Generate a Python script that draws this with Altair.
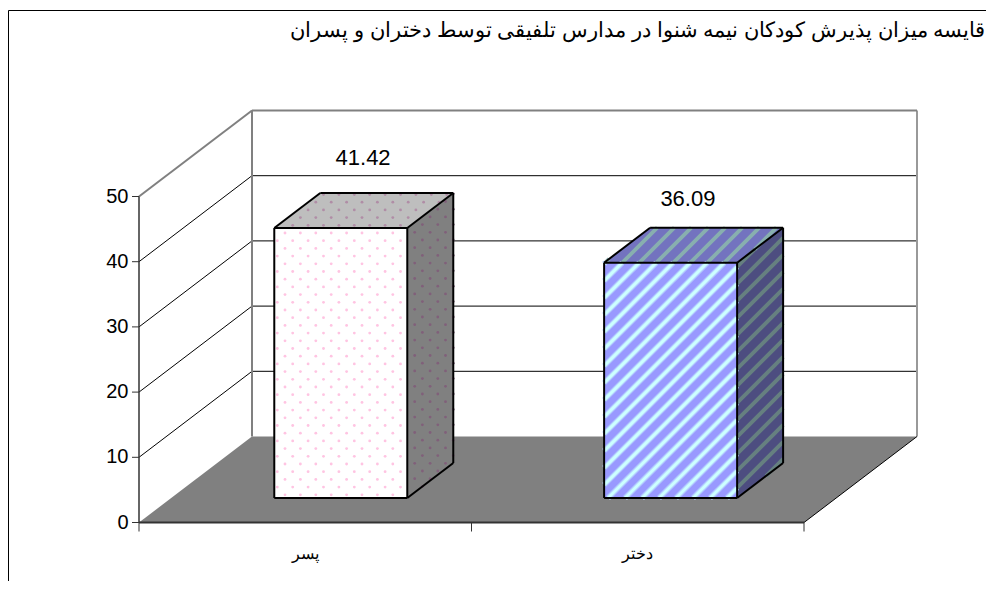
import altair as alt
import pandas as pd

# ---- chart values ----
categories = ["پسر", "دختر"]
values = [41.42, 36.09]
value_labels = ["41.42", "36.09"]
y_ticks = [0, 10, 20, 30, 40, 50]
title_text = "قايسه ميزان پذيرش كودكان نيمه شنوا در مدارس تلفيقی توسط دختران و پسران"

# ---- oblique projection ----
W, H = 978, 573
PX_X = 332.5          # px per category
PX_Y = 6.52           # px per value unit
X0, Y0 = 139.0, 522.5 # page position of the origin
DEPTH_PX_X, DEPTH_PX_Y = 113.0, 86.0
B_W, B_D0, B_D1 = 0.4, 0.285, 0.692
B_START = [0.31, 1.302]
LABEL_RISE = [35, 29]
LABEL_SHIFT = [-2, -7]
FONT = "Liberation Sans"

x_scale = alt.Scale(domain=[(8 - X0) / PX_X, (8 + W - X0) / PX_X], range=[0, W], nice=False, zero=False)
y_scale = alt.Scale(domain=[(Y0 - (8 + H)) / PX_Y, (Y0 - 8) / PX_Y], range=[H, 0], nice=False, zero=False)


def P(cat, val, d=0.0):
    return cat + d * DEPTH_PX_X / PX_X, val + d * DEPTH_PX_Y / PX_Y


def to_px(p):
    return X0 + p[0] * PX_X, Y0 - p[1] * PX_Y


def from_px(p):
    return (p[0] - X0) / PX_X, (Y0 - p[1]) / PX_Y


def enc_xy(**kw):
    return dict(
        x=alt.X("x:Q", scale=x_scale, axis=None),
        y=alt.Y("y:Q", scale=y_scale, axis=None),
        **kw,
    )


def poly(pts, fill):
    """Convex parallelogram drawn as an area through the shared scales."""
    xs = sorted({round(p[0], 6) for p in pts})
    rows = []
    n = len(pts)
    for x in xs:
        ys = []
        for i in range(n):
            a, b = pts[i], pts[(i + 1) % n]
            lo, hi = min(a[0], b[0]), max(a[0], b[0])
            if lo - 1e-6 <= x <= hi + 1e-6:
                if abs(b[0] - a[0]) < 1e-9:
                    ys += [a[1], b[1]]
                else:
                    ys.append(a[1] + (x - a[0]) / (b[0] - a[0]) * (b[1] - a[1]))
        rows.append({"x": x, "y": min(ys), "y2": max(ys)})
    return alt.Chart(pd.DataFrame(rows)).mark_area(color=fill, opacity=1, clip=False).encode(
        x=alt.X("x:Q", scale=x_scale, axis=None),
        y=alt.Y("y:Q", scale=y_scale, axis=None),
        y2=alt.Y2("y2:Q"),
    )


def segs(rows):
    """rows of (p, q, colour, width)"""
    df = pd.DataFrame(
        [{"x": a[0], "y": a[1], "x2": b[0], "y2": b[1], "c": c, "w": w} for a, b, c, w in rows]
    )
    return alt.Chart(df).mark_rule(strokeCap="butt").encode(
        x=alt.X("x:Q", scale=x_scale, axis=None),
        y=alt.Y("y:Q", scale=y_scale, axis=None),
        x2="x2:Q",
        y2="y2:Q",
        color=alt.Color("c:N", scale=None),
        strokeWidth=alt.StrokeWidth("w:Q", scale=None),
    )


def inside(p, pts):
    sign = 0
    n = len(pts)
    for i in range(n):
        a, b = pts[i], pts[(i + 1) % n]
        c = (b[0] - a[0]) * (p[1] - a[1]) - (b[1] - a[1]) * (p[0] - a[0])
        if abs(c) < 1e-9:
            continue
        s = 1 if c > 0 else -1
        if sign and s != sign:
            return False
        sign = s
    return True


def dots(pts, colour, anchor, size=6):
    px = [to_px(p) for p in pts]
    xs, ys = [p[0] for p in px], [p[1] for p in px]
    rows = []
    step = 7.7
    j0 = int((min(ys) - anchor[1]) / step) - 1
    j1 = int((max(ys) - anchor[1]) / step) + 1
    for j in range(j0, j1 + 1):
        y = anchor[1] + j * step
        off = step if j % 2 else 0
        k0 = int((min(xs) - anchor[0]) / (2 * step)) - 1
        k1 = int((max(xs) - anchor[0]) / (2 * step)) + 1
        for k in range(k0, k1 + 1):
            q = (anchor[0] + off + k * 2 * step, y)
            if inside(q, px):
                d = from_px(q)
                rows.append({"x": d[0], "y": d[1]})
    return alt.Chart(pd.DataFrame(rows)).mark_circle(color=colour, opacity=1, size=size).encode(**enc_xy())


def stripes(pts, colour, period=17.0, width=3.0, c0=1.0):
    px = [to_px(p) for p in pts]
    cs = [p[0] + p[1] for p in px]
    k0 = int((min(cs) - c0) // period)
    k1 = int((max(cs) - c0) // period) + 1
    rows = []
    n = len(px)
    for k in range(k0, k1 + 1):
        c = c0 + k * period
        hits = []
        for i in range(n):
            a, b = px[i], px[(i + 1) % n]
            fa, fb = a[0] + a[1] - c, b[0] + b[1] - c
            if fa * fb < 0:
                t = fa / (fa - fb)
                hits.append((a[0] + t * (b[0] - a[0]), a[1] + t * (b[1] - a[1])))
        if len(hits) == 2:
            rows.append((from_px(hits[0]), from_px(hits[1]), colour, width))
    return segs(rows)


def text_layer(rows, **mark):
    df = pd.DataFrame(rows)
    return alt.Chart(df).mark_text(font=FONT, color="black", **mark).encode(
        x=alt.X("x:Q", scale=x_scale, axis=None),
        y=alt.Y("y:Q", scale=y_scale, axis=None),
        text="t:N",
    )


layers = []
DARK, GREY, BLACK = "#333333", "#808080", "#000000"

# outer frame
tl = from_px((8.5, 10.5))
layers.append(segs([
    (tl, from_px((8.5, 8 + H)), BLACK, 1),
    (tl, from_px((8 + W, 10.5)), BLACK, 1),
]))

# floor
layers.append(poly([P(0, 0), P(2, 0), P(2, 0, 1), P(0, 0, 1)], GREY))

# back wall, side wall, gridlines
grid = []
for t in y_ticks[1:-1]:
    grid.append((P(0, t), P(0, t, 1), BLACK, 1))
    grid.append((P(0, t, 1), P(2, t, 1), BLACK, 1))
layers.append(segs(grid))
top = y_ticks[-1]
layers.append(segs([
    (P(0, 0, 1), P(0, top, 1), GREY, 2),
    (P(2, 0, 1), P(2, top, 1), "#999999", 2),
    (P(0, top, 1), P(2, top, 1), GREY, 2),
    (P(0, top), P(0, top, 1), GREY, 2),
    (P(2, 0), P(2, 0, 1), BLACK, 1),
]))

# axes
axis_rows = [
    (P(0, 0), P(0, top), DARK, 1.5),
    (P(0, 0), P(2, 0), DARK, 2),
]
tick_len_x = 7 / PX_X
tick_len_y = 9 / PX_Y
for t in y_ticks:
    axis_rows.append(((-tick_len_x, t), (0, t), DARK, 1))
for c in range(len(categories) + 1):
    axis_rows.append(((c, 0), (c, -tick_len_y), DARK, 1))
layers.append(segs(axis_rows))

layers.append(text_layer(
    [{"x": -10.5 / PX_X, "y": t, "t": str(t)} for t in y_ticks],
    fontSize=20, align="right", baseline="middle",
))
layers.append(text_layer(
    [{"x": i + 0.5, "y": -31 / PX_Y, "t": c} for i, c in enumerate(categories)],
    fontSize=16, align="center", baseline="middle",
))

# bars
faces = [
    {"front": "#FFFFFF", "top": "#BEBEBE", "side": "#808080"},
    {"front": "#9999FF", "top": "#7373BF", "side": "#4D4D80"},
]
for i, v in enumerate(values):
    x0 = B_START[i]
    x1 = x0 + B_W
    front = [P(x0, 0, B_D0), P(x1, 0, B_D0), P(x1, v, B_D0), P(x0, v, B_D0)]
    top_f = [P(x0, v, B_D0), P(x1, v, B_D0), P(x1, v, B_D1), P(x0, v, B_D1)]
    side = [P(x1, 0, B_D0), P(x1, 0, B_D1), P(x1, v, B_D1), P(x1, v, B_D0)]
    layers += [poly(front, faces[i]["front"]), poly(top_f, faces[i]["top"]), poly(side, faces[i]["side"])]
    if i == 0:
        layers += [
            dots(front, "#FFC4E2", (277.3, 240.7), 8),
            dots(top_f, "#B08DA6", (277.3, 240.7), 8),
            dots(side, "#80607A", (407.0, 240.0), 8),
        ]
    else:
        layers += [
            stripes(front, "#B3CCFF", width=5.5),
            stripes(front, "#CCFFFF", width=3.0),
            stripes(top_f, "#88AFAF", width=3.8),
            stripes(side, "#668080", width=3.8),
        ]
    layers.append(segs([
        (P(x0, 0, B_D0), P(x1, 0, B_D0), BLACK, 2),
        (P(x0, 0, B_D0), P(x0, v, B_D0), BLACK, 2),
        (P(x1, 0, B_D0), P(x1, v, B_D0), BLACK, 2),
        (P(x0, v, B_D0), P(x1, v, B_D0), BLACK, 2),
        (P(x0, v, B_D0), P(x0, v, B_D1), BLACK, 2),
        (P(x1, v, B_D0), P(x1, v, B_D1), BLACK, 2),
        (P(x0, v, B_D1), P(x1, v, B_D1), BLACK, 2),
        (P(x1, v, B_D1), P(x1, 0, B_D1), BLACK, 2),
        (P(x1, 0, B_D0), P(x1, 0, B_D1), BLACK, 2),
    ]))

# value labels
layers.append(text_layer(
    [{"x": P(B_START[i] + B_W / 2, 0, 0.5)[0] + LABEL_SHIFT[i] / PX_X,
      "y": v + (B_D1 * DEPTH_PX_Y + LABEL_RISE[i]) / PX_Y, "t": s}
     for i, (v, s) in enumerate(zip(values, value_labels))],
    fontSize=22, align="center", baseline="middle",
))

# title
tpos = from_px((8 + W - 0.5, 31))
layers.append(text_layer(
    [{"x": tpos[0], "y": tpos[1], "t": title_text}],
    fontSize=20.75, align="right", baseline="middle",
))

chart = alt.layer(*layers).properties(
    width=W, height=H, padding=0, autosize=alt.AutoSizeParams(type="none"), background="white"
).configure_view(stroke=None)

chart.save("out.html", embed_options={"renderer": "svg", "actions": False})
